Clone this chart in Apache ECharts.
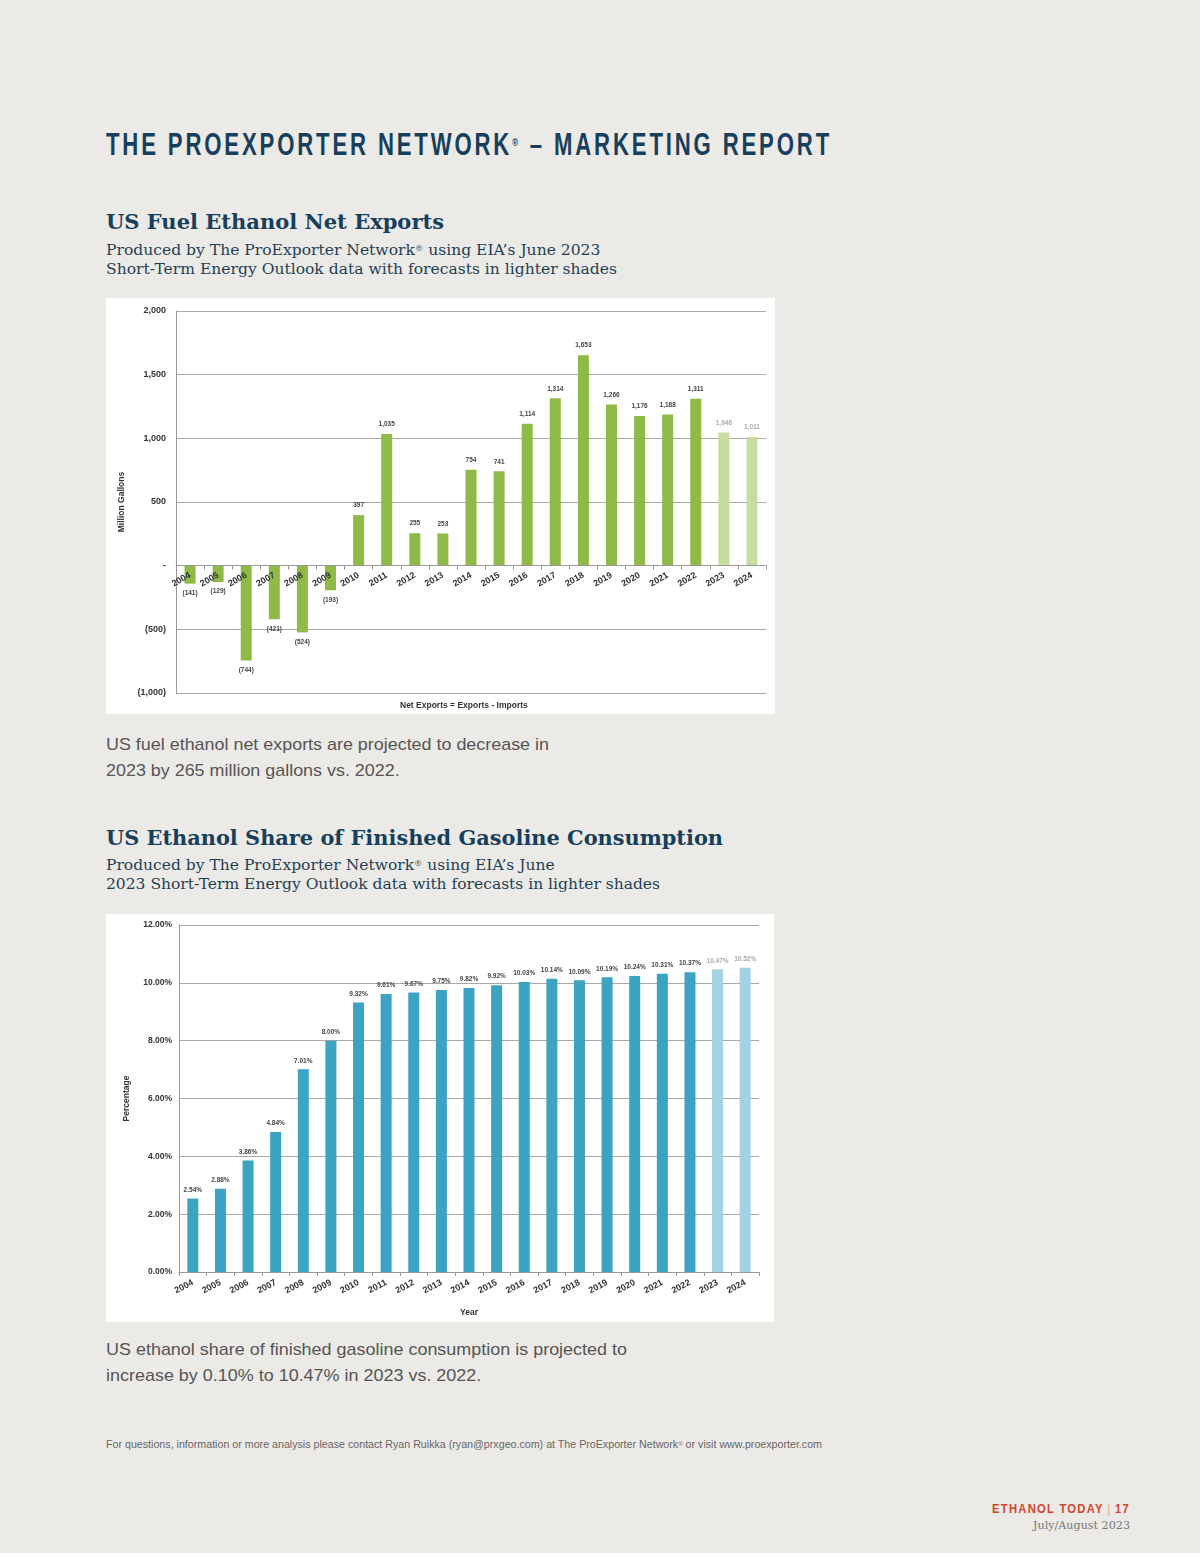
<!DOCTYPE html>
<html>
<head>
<meta charset="utf-8">
<script src="https://cdn.jsdelivr.net/npm/echarts@6/dist/echarts.min.js"></script>
<style>
  html, body { margin: 0; padding: 0; }
  body { width: 1200px; height: 1553px; background: #ECEAE6; position: relative; overflow: hidden; }
  .t { position: absolute; white-space: nowrap; transform-origin: left top; }
  .header { left: 106px; top: 127px; font-family: "Liberation Sans", Arial, sans-serif; font-weight: bold; font-size: 31px; line-height: 36px; letter-spacing: 4px; color: #163F5C; }
  .header sup { font-size: 11px; vertical-align: top; position: relative; top: -3px; letter-spacing: 0; margin-right: 4px; }
  .ctitle { left: 106px; font-family: "DejaVu Serif", "Liberation Serif", serif; font-weight: bold; font-size: 21px; line-height: 28px; color: #163F5C; }
  .csub { left: 106px; font-family: "DejaVu Serif", "Liberation Serif", serif; font-size: 15px; line-height: 18.5px; color: #1F3F55; }
  .csub sup { font-size: 8px; vertical-align: top; position: relative; top: -1px; }
  .para { left: 106px; font-family: "Liberation Sans", Arial, sans-serif; font-size: 17px; line-height: 26px; color: #555; }
  .foot { left: 106px; top: 1438px; font-family: "Liberation Sans", Arial, sans-serif; font-size: 10.5px; line-height: 13px; color: #666; }
  .foot sup { font-size: 6px; vertical-align: top; }
  .mag { left: 992px; top: 1501px; font-family: "Liberation Sans", Arial, sans-serif; font-weight: bold; font-size: 13px; line-height: 16px; letter-spacing: 1.5px; color: #D2452F; }
  .mag .bar { color: #D9A89E; font-weight: normal; margin: 0 4px; }
  .date { left: 1033px; top: 1517px; font-family: "DejaVu Serif", "Liberation Serif", serif; font-size: 11.5px; line-height: 16px; color: #777; }
  .chartbox { position: absolute; background: #fff; }
</style>
</head>
<body>
<div id="hdr" class="t header">THE PROEXPORTER NETWORK<sup>®</sup> – MARKETING REPORT</div>

<div id="t1" class="t ctitle" style="top:208px;">US Fuel Ethanol Net Exports</div>
<div id="s1" class="t csub" style="top:241px;">Produced by The ProExporter Network<sup>®</sup> using EIA’s June 2023<br>Short-Term Energy Outlook data with forecasts in lighter shades</div>
<div id="c1" class="chartbox" style="left:106px; top:298px; width:669px; height:416px;"></div>
<div id="p1" class="t para" style="top:732px;">US fuel ethanol net exports are projected to decrease in<br>2023 by 265 million gallons vs. 2022.</div>

<div id="t2" class="t ctitle" style="top:824px;">US Ethanol Share of Finished Gasoline Consumption</div>
<div id="s2" class="t csub" style="top:856px;">Produced by The ProExporter Network<sup>®</sup> using EIA’s June<br>2023 Short-Term Energy Outlook data with forecasts in lighter shades</div>
<div id="c2" class="chartbox" style="left:106px; top:914px; width:668px; height:408px;"></div>
<div id="p2" class="t para" style="top:1337px;">US ethanol share of finished gasoline consumption is projected to<br>increase by 0.10% to 10.47% in 2023 vs. 2022.</div>

<div id="ft" class="t foot">For questions, information or more analysis please contact Ryan Ruikka (ryan@prxgeo.com) at The ProExporter Network<sup>®</sup> or visit www.proexporter.com</div>
<div id="mg" class="t mag">ETHANOL TODAY<span class="bar">|</span>17</div>
<div id="dt" class="t date">July/August 2023</div>

<script>
// ---- data ----
const years = ['2004','2005','2006','2007','2008','2009','2010','2011','2012','2013','2014','2015','2016','2017','2018','2019','2020','2021','2022','2023','2024'];
const forecastYears = ['2023','2024'];
const netExports = [-141,-129,-744,-421,-524,-193,397,1035,255,253,754,741,1114,1314,1653,1266,1176,1188,1311,1046,1011];
const ethanolShare = [2.54,2.88,3.86,4.84,7.01,8.00,9.32,9.61,9.67,9.75,9.82,9.92,10.03,10.14,10.09,10.19,10.24,10.31,10.37,10.47,10.52];
const exportAxis = { min: -1000, max: 2000, interval: 500 };
const shareAxis = { min: 0, max: 12, interval: 2 };

// ---- text width fitting (layout only) ----
function fit(id, w) {
  const el = document.getElementById(id);
  const nat = el.getBoundingClientRect().width;
  el.style.transform = 'scaleX(' + (w / nat) + ')';
}
fit('hdr', 726); fit('t1', 338); fit('s1', 511); fit('p1', 443);
fit('t2', 617); fit('s2', 554); fit('p2', 521); fit('ft', 716);
fit('mg', 138); fit('dt', 97);

// ---- styles ----
const FONT = '"Liberation Sans", Arial, sans-serif';
const GREEN = '#8EBA45', GREEN_LIGHT = '#C7DDA0';
const BLUE = '#3DA3C3', BLUE_LIGHT = '#A3D3E3';

function fmtGallons(v) {
  if (v === 0) return '-';
  const s = Math.abs(v).toLocaleString('en-US');
  return v < 0 ? '(' + s + ')' : s;
}

// ---- chart 1 ----
const G1 = { left: 70, top: 13, right: 9, bottom: 21 };
const c1El = document.getElementById('c1');
const plotH1 = c1El.clientHeight - G1.top - G1.bottom;
const zeroFromBottom = plotH1 * (0 - exportAxis.min) / (exportAxis.max - exportAxis.min);
const c1 = echarts.init(c1El);
c1.setOption({
  animation: false,
  grid: G1,
  xAxis: {
    type: 'category', data: years, z: 5,
    offset: -zeroFromBottom,
    axisLine: { onZero: false, lineStyle: { color: '#999', width: 1 } },
    axisTick: { show: true, length: 4, lineStyle: { color: '#999' } },
    axisLabel: { interval: 0, rotate: 30, margin: 9, fontFamily: FONT, fontWeight: 'bold', fontSize: 9, color: '#333' }
  },
  yAxis: {
    type: 'value', min: exportAxis.min, max: exportAxis.max, interval: exportAxis.interval,
    name: 'Million Gallons', nameLocation: 'middle', nameGap: 50, nameRotate: 90,
    nameTextStyle: { fontFamily: FONT, fontWeight: 'bold', fontSize: 8.5, color: '#333' },
    axisLine: { show: true, lineStyle: { color: '#999' } },
    axisTick: { show: false },
    splitLine: { lineStyle: { color: '#A8A8A8', width: 1.2 } },
    axisLabel: { margin: 10, fontFamily: FONT, fontWeight: 'bold', fontSize: 9, color: '#333', formatter: fmtGallons }
  },
  graphic: [{
    type: 'text', left: 294, top: 403,
    style: { text: 'Net Exports = Exports - Imports', font: 'bold 8.5px ' + FONT, fill: '#333' }
  }],
  series: [{
    type: 'bar', barWidth: 11,
    data: netExports.map((v, i) => {
      const fc = forecastYears.includes(years[i]);
      return {
        value: v,
        itemStyle: { color: fc ? GREEN_LIGHT : GREEN },
        label: { position: v < 0 ? 'bottom' : 'top', color: fc ? '#AAA' : '#444' }
      };
    }),
    label: { show: true, distance: 6, fontFamily: FONT, fontWeight: 'bold', fontSize: 6.5,
      formatter: p => fmtGallons(p.value) }
  }]
});

// ---- chart 2 ----
const c2 = echarts.init(document.getElementById('c2'));
c2.setOption({
  animation: false,
  grid: { left: 73, top: 11, right: 15, bottom: 48 },
  xAxis: {
    type: 'category', data: years,
    name: 'Year', nameLocation: 'middle', nameGap: 36,
    nameTextStyle: { fontFamily: FONT, fontWeight: 'bold', fontSize: 8.5, color: '#333' },
    axisLine: { lineStyle: { color: '#999' } },
    axisTick: { show: true, length: 4, lineStyle: { color: '#999' } },
    axisLabel: { interval: 0, rotate: 28, margin: 10, fontFamily: FONT, fontWeight: 'bold', fontSize: 9, color: '#333' }
  },
  yAxis: {
    type: 'value', min: shareAxis.min, max: shareAxis.max, interval: shareAxis.interval,
    name: 'Percentage', nameLocation: 'middle', nameGap: 48, nameRotate: 90,
    nameTextStyle: { fontFamily: FONT, fontWeight: 'bold', fontSize: 8.5, color: '#333' },
    axisLine: { show: true, lineStyle: { color: '#999' } },
    axisTick: { show: false },
    splitLine: { lineStyle: { color: '#A8A8A8', width: 1.2 } },
    axisLabel: { margin: 7, fontFamily: FONT, fontWeight: 'bold', fontSize: 8.5, color: '#333',
      formatter: v => v.toFixed(2) + '%' }
  },
  series: [{
    type: 'bar', barWidth: 11,
    data: ethanolShare.map((v, i) => {
      const fc = forecastYears.includes(years[i]);
      return { value: v, itemStyle: { color: fc ? BLUE_LIGHT : BLUE }, label: { color: fc ? '#AAA' : '#444' } };
    }),
    label: { show: true, position: 'top', distance: 5, fontFamily: FONT, fontWeight: 'bold', fontSize: 6.5,
      formatter: p => p.value.toFixed(2) + '%' }
  }]
});
</script>
</body>
</html>
